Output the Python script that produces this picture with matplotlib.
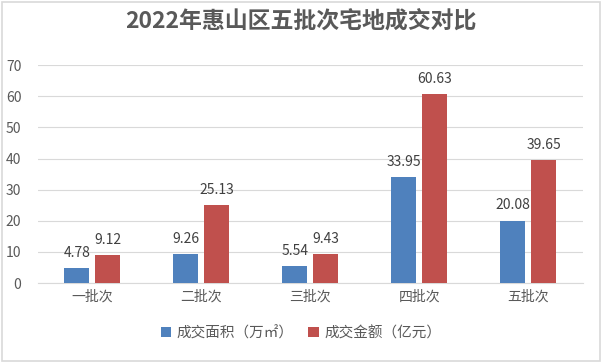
import matplotlib.pyplot as plt
import numpy as np

plt.rcParams['font.family'] = ['Noto Sans CJK SC', 'DejaVu Sans']

# 数据
categories = ['一批次', '二批次', '三批次', '四批次', '五批次']
area = [4.78, 9.26, 5.54, 33.95, 20.08]       # 成交面积（万㎡）
amount = [9.12, 25.13, 9.43, 60.63, 39.65]    # 成交金额（亿元）
series_names = ['成交面积（万㎡）', '成交金额（亿元）']
yticks = [0, 10, 20, 30, 40, 50, 60, 70]

c_blue = '#4F81BD'
c_red = '#C0504D'
c_text = '#595959'

fig = plt.figure(figsize=(6.02, 3.62), dpi=100)
ax = fig.add_axes([0.063, 0.218, 0.905, 0.602])

x = np.arange(len(categories))
w = 0.23
gap = 0.055
b1 = ax.bar(x - (w + gap) / 2, area, w, color=c_blue, label=series_names[0], zorder=3)
b2 = ax.bar(x + (w + gap) / 2, amount, w, color=c_red, label=series_names[1], zorder=3)

for bars, vals in [(b1, area), (b2, amount)]:
    for r, v in zip(bars, vals):
        ax.text(r.get_x() + r.get_width() / 2, v + 2.6, f'{v:.2f}',
                ha='center', va='bottom', fontsize=10, color='#404040')

ax.set_xlim(-0.5, len(categories) - 0.5)
ax.set_ylim(0, 70)
ax.set_yticks(yticks)
ax.set_xticks(x)
ax.set_xticklabels(categories)
ax.tick_params(axis='both', length=0, labelsize=10, colors=c_text)
ax.tick_params(axis='y', pad=12)
ax.tick_params(axis='x', pad=5)
ax.grid(axis='y', color='#D9D9D9', linewidth=0.8, zorder=0)
for s in ['top', 'right', 'left']:
    ax.spines[s].set_visible(False)
ax.spines['bottom'].set_color('#D9D9D9')

fig.suptitle('2022年惠山区五批次宅地成交对比', x=0.5, y=0.975, fontsize=16.5,
             fontweight='bold', color=c_text)

leg = fig.legend(handles=[b1, b2], loc='center', bbox_to_anchor=(0.5, 0.08), ncol=2,
                 frameon=False, fontsize=10.5, handlelength=0.7, handleheight=0.7,
                 handletextpad=0.4, columnspacing=1.0)
for t in leg.get_texts():
    t.set_color(c_text)

# 外框
fig.patches.append(plt.Rectangle((0.003, 0.004), 0.994, 0.99, transform=fig.transFigure,
                                 fill=False, edgecolor='#D9D9D9', linewidth=1.2))

plt.savefig('out.png', dpi=100)
plt.close()
